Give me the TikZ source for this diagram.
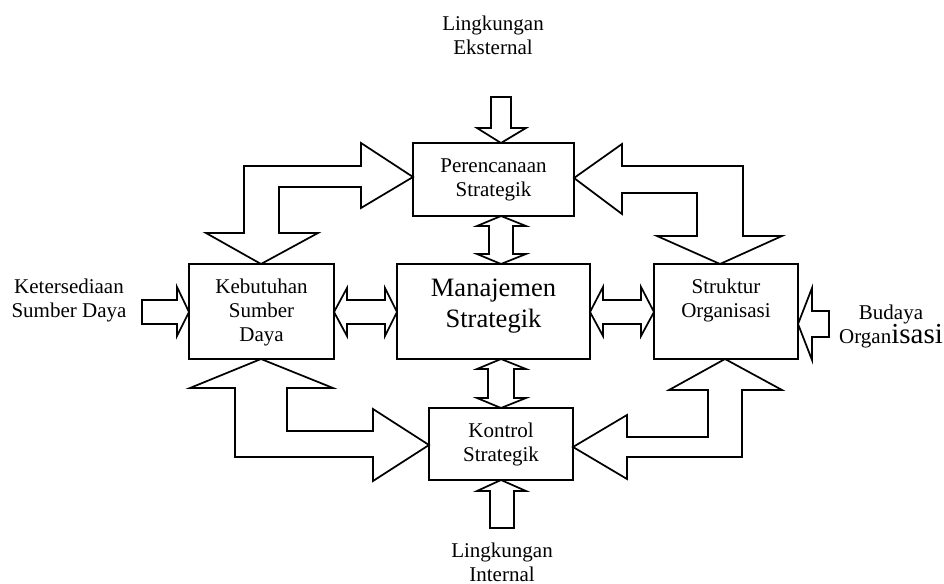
\documentclass[tikz,border=0pt]{standalone}
\usepackage{fontspec}
\setmainfont{Liberation Serif}
\begin{document}
\begin{tikzpicture}[x=0.75pt,y=-0.75pt,
  box/.style={draw, line width=1.3pt, rectangle, inner sep=0pt},
  lbl/.style={align=center, inner sep=0pt, font=\fontsize{15.75}{18}\selectfont},
  big/.style={align=center, inner sep=0pt, font=\fontsize{19.9}{23.3}\selectfont},
  blk/.style={draw, line width=1.3pt, line join=miter, fill=white}]
\useasboundingbox (0,0) rectangle (944,584);

% boxes
\node[box, minimum width=120.75pt, minimum height=54.75pt] (P) at (493.5,179.5) {};
\node[box, minimum width=108.75pt, minimum height=71.25pt] (K) at (261.5,311.5) {};
\node[box, minimum width=144.75pt, minimum height=71.25pt] (M) at (493.5,311.5) {};
\node[box, minimum width=108pt, minimum height=71.25pt] (S) at (726,311.5) {};
\node[box, minimum width=108pt, minimum height=54pt] (C) at (501,444) {};

% box texts
\node[lbl] (Pt) at (493.5,180) {Perencanaan\\Strategik};
\node[lbl] (Kt) at (261.5,312) {Kebutuhan\\Sumber\\Daya};
\node[big] (Mt) at (493.5,306) {Manajemen\\Strategik};
\node[lbl] (St) at (726,300) {Struktur\\Organisasi};
\node[lbl] (Ct) at (501,444) {Kontrol\\Strategik};

% outside texts
\node[lbl] (ext) at (493,35) {Lingkungan\\Eksternal};
\node[lbl] (int) at (502,562) {Lingkungan\\Internal};
\node[lbl] (ket) at (69,300) {Ketersediaan\\Sumber Daya};
\node[lbl] (bud) at (891,326) {Budaya\\Organ{\fontsize{21.75}{18}\selectfont isasi}};

% straight block arrows
\draw[blk] (491,97) -- (511,97) -- (511,128) -- (526,128) -- (501,143) -- (477,128) -- (491,128) -- cycle;
\draw[blk] (501,216) -- (526,226) -- (513,226) -- (513,254) -- (526,254) -- (501,264) -- (477,254) -- (489,254) -- (489,226) -- (477,226) -- cycle;
\draw[blk] (501,359) -- (526,369) -- (514,369) -- (514,398) -- (526,398) -- (501,408) -- (477,398) -- (488,398) -- (488,369) -- (477,369) -- cycle;
\draw[blk] (490,528) -- (514,528) -- (514,491) -- (526,491) -- (501,480) -- (477,491) -- (490,491) -- cycle;
\draw[blk] (334,312) -- (347,288) -- (347,300) -- (385,300) -- (385,288) -- (397,312) -- (385,336) -- (385,324) -- (347,324) -- (347,336) -- cycle;
\draw[blk] (590,312) -- (603,287) -- (603,300) -- (641,300) -- (641,287) -- (654,312) -- (641,336) -- (641,324) -- (603,324) -- (603,336) -- cycle;
\draw[blk] (142,300) -- (177,300) -- (177,287) -- (189,312) -- (177,336) -- (177,324) -- (142,324) -- cycle;
\draw[blk] (798,324) -- (812,288) -- (812,311) -- (829,311) -- (829,337) -- (812,337) -- (812,360) -- cycle;

% bent double arrows
\draw[blk] (413,177) -- (361,208) -- (361,187) -- (279,187) -- (279,233) -- (318,233) -- (261,264) -- (206,233) -- (244,233) -- (244,166) -- (361,166) -- (361,143) -- cycle;
\draw[blk] (574,178) -- (622,144) -- (622,166) -- (743,166) -- (743,236) -- (782,236) -- (720,264) -- (657,236) -- (697,236) -- (697,193) -- (622,193) -- (622,214) -- cycle;
\draw[blk] (429,445) -- (373,409) -- (373,431) -- (287,431) -- (287,388) -- (333,388) -- (261,359) -- (190,388) -- (235,388) -- (235,457) -- (373,457) -- (373,481) -- cycle;
\draw[blk] (573,447) -- (627,415) -- (627,437) -- (708,437) -- (708,390) -- (669,390) -- (725,359) -- (782,390) -- (742,390) -- (742,457) -- (627,457) -- (627,479) -- cycle;
\end{tikzpicture}
\end{document}
